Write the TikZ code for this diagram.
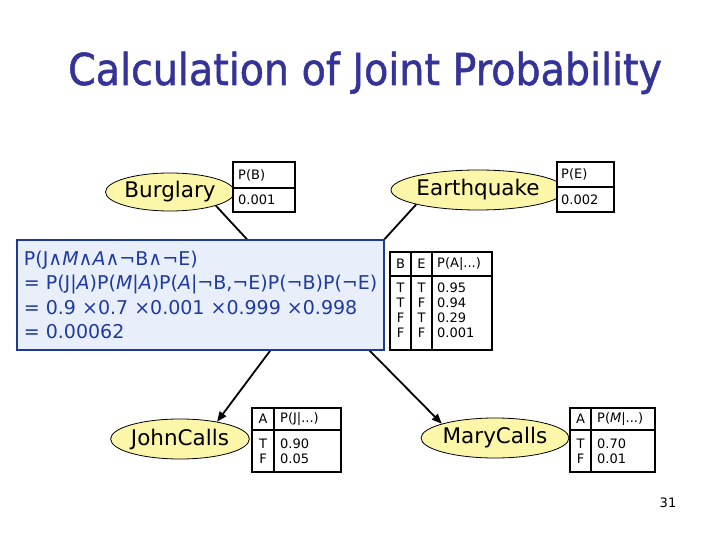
\documentclass[tikz,border=0pt]{standalone}
\usepackage{fontspec}
\setmainfont{DejaVu Sans}
\newfontfamily\titlefont[FakeBold=1.2]{DejaVu Sans}
\usetikzlibrary{shapes.geometric,arrows.meta}
\definecolor{titleblue}{HTML}{333399}
\definecolor{boxfill}{HTML}{E8EEFA}
\definecolor{boxline}{HTML}{1F3A93}
\definecolor{boxtext}{HTML}{1F3AA0}
\definecolor{nodefill}{HTML}{FBF6A8}
\begin{document}
\begin{tikzpicture}[x=1pt,y=-1pt,
  bnode/.style={ellipse, draw=black, line width=0.8pt, fill=nodefill, inner sep=0pt,
    minimum height=40pt, font=\fontsize{21.5}{24}\selectfont},
  cpt/.style={draw=black, line width=2.6pt, inner sep=0pt, fill=white},
  sepline/.style={line width=1.5pt},
  ctext/.style={font=\fontsize{13}{15}\selectfont, inner sep=0pt},
  edge/.style={line width=1.8pt},
  arr/.style={edge, -{Triangle[length=10pt,width=8pt]}}]
\useasboundingbox (0,0) rectangle (720,540);

% title
\node[font=\titlefont\fontsize{44}{48}\selectfont, text=titleblue, anchor=base, inner sep=0pt, xscale=0.9] (title) at (365,85) {Calculation of Joint Probability};

% network nodes
\node[bnode, minimum width=100pt, minimum height=38pt] (burglary) at (170,192) {Burglary};
\node[bnode, minimum width=134pt] (earthquake) at (478,190) {Earthquake};
\node[ellipse, draw=none, minimum width=90pt, minimum height=40pt] (alarm) at (316,300) {};
\node[bnode, minimum width=118pt] (john) at (180,439) {JohnCalls};
\node[bnode, minimum width=124pt] (mary) at (495,438) {MaryCalls};

% edges
\draw[edge] (burglary.south east) -- (alarm.150);
\draw[edge] (earthquake.south west) -- (alarm.30);
\draw[arr] (alarm.-140) -- (john.25);
\draw[arr] (alarm.-40) -- (mary.165);

% calculation box
\node[draw=boxline, line width=2.6pt, fill=boxfill, minimum width=367pt, minimum height=110pt, inner sep=0pt] (calc) at (200.5,295) {};
\node[anchor=west, text=boxtext, align=left, inner sep=0pt,
  font=\fontsize{19}{24.5}\selectfont] (calctext) at ([xshift=8pt]calc.west)
  {P(J∧\textit{M}∧\textit{A}∧¬B∧¬E)\\
   = P(J|\textit{A})P(\textit{M}|\textit{A})P(\textit{A}|¬B,¬E)P(¬B)P(¬E)\\
   = 0.9 ×0.7 ×0.001 ×0.999 ×0.998\\
   = 0.00062};

% CPT for B
\node[cpt, minimum width=62pt, minimum height=50pt] (tB) at (264,187) {};
\draw[sepline] (233,188) -- (295,188);
\node[ctext, anchor=west] (tBh) at (238,175) {P(B)};
\node[ctext, anchor=west] (tBv) at (238,200) {0.001};

% CPT for E
\node[cpt, minimum width=57pt, minimum height=50pt] (tE) at (585.5,187) {};
\draw[sepline] (557,187) -- (614,187);
\node[ctext, anchor=west] (tEh) at (561,174) {P(E)};
\node[ctext, anchor=west] (tEv) at (561,200) {0.002};

% CPT for A
\node[cpt, minimum width=102pt, minimum height=98pt] (tA) at (441,301) {};
\draw[sepline] (390,276) -- (492,276);
\draw[sepline] (411,252) -- (411,350);
\draw[sepline] (432,252) -- (432,350);
\node[ctext] (hB) at (400.5,264) {B};
\node[ctext] (hE) at (421.5,264) {E};
\node[ctext, anchor=west] (hA) at (437,264) {P(A|...)};
\foreach \b/\e/\p/\y [count=\i] in {T/T/0.95/288, T/F/0.94/303, F/T/0.29/318, F/F/0.001/333}{
  \node[ctext] (rB\i) at (400.5,\y) {\b};
  \node[ctext] (rE\i) at (421.5,\y) {\e};
  \node[ctext, anchor=west] (rP\i) at (437,\y) {\p};
}

% CPT for J
\node[cpt, minimum width=89pt, minimum height=64pt] (tJ) at (296.5,440) {};
\draw[sepline] (252,430) -- (341,430);
\draw[sepline] (274,408) -- (274,472);
\node[ctext] (jA) at (263,419) {A};
\node[ctext, anchor=west] (jP) at (280,419) {P(J|...)};
\node[ctext] (jT) at (263,444) {T};
\node[ctext, anchor=west] (jT2) at (280,444) {0.90};
\node[ctext] (jF) at (263,459) {F};
\node[ctext, anchor=west] (jF2) at (280,459) {0.05};

% CPT for M
\node[cpt, minimum width=85pt, minimum height=64pt] (tM) at (612.5,440) {};
\draw[sepline] (570,430) -- (655,430);
\draw[sepline] (591,408) -- (591,472);
\node[ctext] (mA) at (580.5,419) {A};
\node[ctext, anchor=west] (mP) at (597,419) {P(\textit{M}|...)};
\node[ctext] (mT) at (580.5,444) {T};
\node[ctext, anchor=west] (mT2) at (597,444) {0.70};
\node[ctext] (mF) at (580.5,459) {F};
\node[ctext, anchor=west] (mF2) at (597,459) {0.01};

% page number
\node[font=\fontsize{13}{15}\selectfont] (page) at (668,503) {31};
\end{tikzpicture}
\end{document}
